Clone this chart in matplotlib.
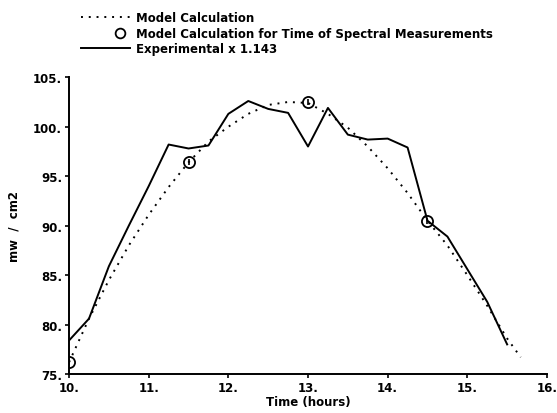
import matplotlib
matplotlib.use('Agg')
import matplotlib.pyplot as plt
import numpy as np
from matplotlib.lines import Line2D
from matplotlib.legend_handler import HandlerLine2D

plt.rcParams.update({
    'font.family': 'DejaVu Sans',
    'font.weight': 'bold',
    'axes.labelweight': 'bold',
    'font.size': 8.5,
})

# Model calculation (dotted curve)
model_time = [10.0, 10.25, 10.5, 10.75, 11.0, 11.25, 11.5, 11.75, 12.0, 12.25,
              12.5, 12.75, 13.0, 13.25, 13.5, 13.75, 14.0, 14.25, 14.5, 14.75,
              15.0, 15.25, 15.5, 15.67]
model_val = [76.2, 80.6, 84.5, 88.0, 91.1, 93.9, 96.4, 98.5, 100.0, 101.3,
             102.2, 102.5, 102.4, 101.3, 99.9, 98.0, 95.8, 93.3, 90.5, 88.0,
             85.0, 81.9, 78.6, 76.7]

# Model at time of spectral measurements (circles)
spec_time = [10.0, 11.5, 13.0, 14.5]
spec_val = [76.2, 96.4, 102.5, 90.5]

# Experimental x 1.143 (solid)
exp_time = [10.0, 10.25, 10.5, 10.75, 11.0, 11.25, 11.5, 11.75, 12.0, 12.25,
            12.5, 12.75, 13.0, 13.25, 13.5, 13.75, 14.0, 14.25, 14.5, 14.75,
            15.0, 15.25, 15.5]
exp_val = [78.4, 80.6, 85.9, 90.0, 94.0, 98.2, 97.8, 98.1, 101.3, 102.6,
           101.8, 101.4, 98.0, 101.9, 99.2, 98.7, 98.8, 97.9, 90.5, 88.9,
           85.6, 82.3, 78.0]


# legend handler that puts the single marker near the right end of the handle
class RightMarker(HandlerLine2D):
    def get_xdata(self, legend, xdescent, ydescent, width, height, fontsize):
        xdata = np.array([-xdescent + width * 0.6, -xdescent + width])
        return xdata, xdata


fig = plt.figure(figsize=(5.57, 4.14), dpi=100)
ax = fig.add_axes([0.124, 0.094, 0.858, 0.717])

ax.plot(model_time, model_val, color='black', linestyle=(0, (1, 3)), linewidth=1.4)
ax.plot(exp_time, exp_val, color='black', linewidth=1.4)
ax.plot(spec_time, spec_val, linestyle='none', marker='o', markersize=8,
        markerfacecolor='none', markeredgecolor='black', markeredgewidth=1.3)
ax.plot(spec_time, spec_val, linestyle='none', marker='|', markersize=4,
        color='black', markeredgewidth=1.2)

ax.set_xlim(10, 16)
ax.set_ylim(75, 105)
ax.set_xticks(range(10, 17))
ax.set_xticklabels([f'{t}.' for t in range(10, 17)])
ax.set_yticks(range(75, 106, 5))
ax.set_yticklabels([f'{v}.' for v in range(75, 106, 5)])
ax.spines['top'].set_visible(False)
ax.spines['right'].set_visible(False)
ax.spines['left'].set_linewidth(1.4)
ax.spines['bottom'].set_linewidth(1.4)
ax.tick_params(direction='out', length=3, width=1.2, pad=2)

ax.set_xlabel('Time (hours)', labelpad=1)
ax.set_ylabel('mw  /  cm2', labelpad=9)

circle_handle = Line2D([], [], linestyle='none', marker='o', markersize=7,
                       markerfacecolor='none', markeredgecolor='black',
                       markeredgewidth=1.3)
handles = [
    Line2D([], [], color='black', linestyle=(0, (1, 3)), linewidth=1.4),
    circle_handle,
    Line2D([], [], color='black', linewidth=1.4),
]
labels = ['Model Calculation',
          'Model Calculation for Time of Spectral Measurements',
          'Experimental x 1.143']
fig.legend(handles, labels, loc='upper left', bbox_to_anchor=(0.13, 0.99),
           frameon=False, handlelength=4.2, handletextpad=0.5,
           labelspacing=0.2, borderaxespad=0.3,
           handler_map={circle_handle: RightMarker()})

fig.savefig('out.png', dpi=100)
